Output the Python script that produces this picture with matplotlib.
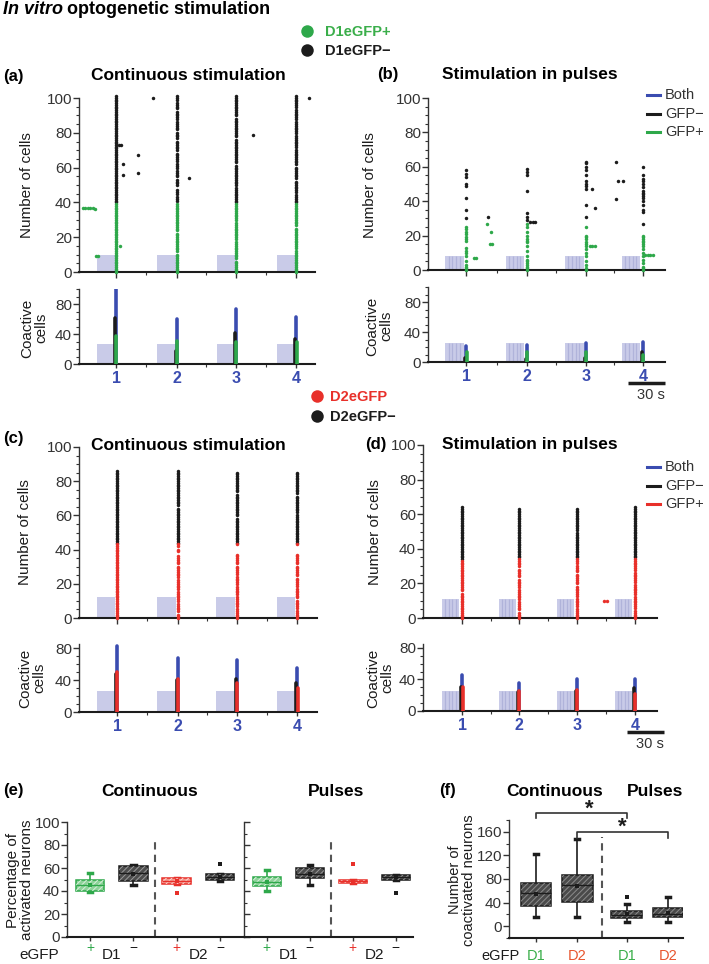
import numpy as np
import matplotlib
matplotlib.use('Agg')
import matplotlib.pyplot as plt
from matplotlib.lines import Line2D
from matplotlib.patches import PathPatch
from matplotlib.ticker import MultipleLocator
import matplotlib.transforms as mtransforms

plt.rcParams['font.family'] = ['Liberation Sans', 'DejaVu Sans']
plt.rcParams['hatch.linewidth'] = 0.7

# ------------------------------------------------------------------ data
STIM_LABELS = ['1', '2', '3', '4']

# (a) D1, continuous
A_STIMS = [30, 79, 127, 176]
A_POS_SEGS = [
    [(0, 39)],
    [(0, 10), (12, 22), (24, 39)],
    [(0, 6), (8, 17), (19, 28), (30, 39)],
    [(0, 12), (14, 25), (27, 39)],
]
A_NEG_SEGS = [
    [(40, 101)],
    [(41, 43), (45, 47), (50, 53), (55, 58), (60, 62), (64, 68), (70, 75), (77, 80),
     (82, 86), (88, 92), (94, 97), (99, 101)],
    [(40, 48), (50, 61), (63, 76), (78, 88), (90, 101)],
    [(40, 44), (46, 52), (54, 60), (62, 70), (72, 78), (80, 86), (88, 93), (95, 101)],
]
A_POS_EXTRA = [(3, 37), (5, 37), (7, 37), (9, 37), (11, 37), (13, 36), (14, 9), (15, 9), (33, 15)]
A_NEG_EXTRA = [(32, 73), (34, 73), (36, 62), (36, 56), (48, 67), (48, 57), (60, 100),
               (89, 54), (141, 79), (186, 100)]
A_CO_BOTH = [100, 60, 73, 63]
A_CO_NEG = [61, 18, 42, 33]
A_CO_POS = [37, 31, 29, 30]

# (b) D1, pulses
B_STIMS = [31, 80, 128, 174]
B_POS_CELLS = [
    [0, 1, 2, 3, 5, 8, 10, 11, 13, 17, 18, 19, 21, 22, 24, 25],
    [0, 1, 2, 3, 4, 5, 6, 8, 11, 14, 16, 17, 18, 20, 22, 25, 27],
    [0, 1, 3, 5, 8, 10, 12, 14, 15, 16, 18, 19, 20, 25],
    [0, 1, 2, 4, 6, 8, 10, 12, 14, 15, 16, 17, 18, 19, 20],
]
B_NEG_CELLS = [
    [30, 35, 42, 49, 50, 54, 56, 58],
    [29, 31, 33, 46, 55, 57, 59],
    [31, 38, 47, 49, 50, 52, 55, 58, 60, 62, 63],
    [27, 34, 35, 38, 40, 42, 43, 44, 45, 46, 48, 50, 52, 53, 55, 60],
]
B_POS_EXTRA = [(37, 7), (39, 7), (48, 27), (51, 22), (50, 15), (52, 15), (131, 14), (133, 14),
               (135, 14), (176, 9), (178, 9), (180, 9), (182, 9)]
B_NEG_EXTRA = [(49, 31), (83, 28), (85, 28), (87, 28), (133, 47), (135, 36), (152, 63),
               (152, 41), (154, 52), (158, 52)]
B_CO_BOTH = [21, 23, 25, 27]
B_CO_NEG = [6, 4, 6, 14]
B_CO_POS = [14, 14, 14, 10]

# (c) D2, continuous
C_STIMS = [31, 80, 128, 177]
C_POS_SEGS = [
    [(0, 43)],
    [(0, 2), (4, 8), (10, 15), (17, 22), (24, 30), (32, 36), (39, 40), (42, 43)],
    [(0, 5), (7, 12), (14, 18), (20, 24), (26, 30), (32, 37), (43, 43)],
    [(0, 4), (6, 10), (12, 17), (19, 23), (25, 30), (32, 37), (43, 43)],
]
C_NEG_SEGS = [
    [(44, 86)],
    [(44, 64), (66, 86)],
    [(44, 58), (60, 72), (74, 85)],
    [(44, 60), (62, 71), (73, 85)],
]
C_CO_BOTH = [82, 68, 65, 55]
C_CO_NEG = [48, 40, 41, 36]
C_CO_POS = [50, 41, 36, 30]

# (d) D2, pulses
D_STIMS = [32, 78, 125, 172]
D_POS_SEGS = [
    [(0, 14), (16, 33)],
    [(0, 3), (5, 9), (11, 16), (18, 22), (24, 28), (30, 34)],
    [(0, 5), (7, 11), (13, 18), (20, 25), (27, 30), (32, 34)],
    [(0, 4), (6, 12), (14, 19), (21, 26), (28, 34)],
]
D_NEG_SEGS = [
    [(34, 64)],
    [(35, 63)],
    [(35, 49), (51, 63)],
    [(35, 64)],
]
D_POS_EXTRA = [(147, 10), (149, 10)]
D_CO_BOTH = [46, 36, 40, 41]
D_CO_NEG = [30, 24, 26, 29]
D_CO_POS = [31, 25, 27, 22]

# (e) percentage of activated neurons (D1+, D1-, D2+, D2-)
E_CONT_MED = [45, 56, 49, 52.5]
E_CONT_Q1 = [40, 49, 46, 49.5]
E_CONT_Q3 = [50, 62, 51, 55]
E_CONT_LO = [39, 45, 46, 48.5]
E_CONT_HI = [55.5, 63, 51, 55]
E_CONT_MEAN = [45, 55, 48.5, 52]
E_CONT_FLIERS = [[], [], [38], [63.5]]

E_PULS_MED = [48, 55, 48.5, 52]
E_PULS_Q1 = [44, 51, 47, 50]
E_PULS_Q3 = [52, 60, 50, 54]
E_PULS_LO = [40, 45, 47, 50]
E_PULS_HI = [58, 62.5, 50, 54]
E_PULS_MEAN = [48, 55, 48.5, 52]
E_PULS_FLIERS = [[], [], [63.5], [38.5]]

# (f) number of coactivated neurons (cont D1, cont D2, pulses D1, pulses D2)
F_LABELS = ['D1', 'D2', 'D1', 'D2']
F_MED = [57, 69, 19, 21]
F_Q1 = [34, 41, 14, 15]
F_Q3 = [73, 86, 25, 31]
F_LO = [15, 15, 7, 7]
F_HI = [122, 148, 37, 50]
F_MEAN = [55, 68, 20, 23]
F_FLIERS = [[], [], [50], []]

# ------------------------------------------------------------------ style
GREEN = '#2ea84a'
GREEN_T = '#3aae4a'
RED = '#e8302a'
BLUE = '#3a4cb0'
BLACK = '#1c1c1c'
SHADE = '#c9cbe8'
STRIPE = '#b0b3da'
TICKC = '#333333'

W, H = 709, 964
fig = plt.figure(figsize=(W / 100, H / 100), dpi=100)


def add_ax(x0, x1, y_top, y_bot):
    return fig.add_axes([x0 / W, 1 - y_bot / H, (x1 - x0) / W, (y_bot - y_top) / H])


def ftext(x, y, s, **kw):
    return fig.text(x / W, 1 - y / H, s, **kw)


def style(ax, bottom_lw=1.5):
    for s in ('top', 'right'):
        ax.spines[s].set_visible(False)
    ax.spines['left'].set_color(TICKC)
    ax.spines['left'].set_linewidth(1.0)
    ax.spines['bottom'].set_color(BLACK)
    ax.spines['bottom'].set_linewidth(bottom_lw)
    ax.tick_params(axis='both', which='major', direction='out', length=4, width=1.0,
                   colors=TICKC, labelsize=11, pad=1)
    ax.tick_params(axis='both', which='minor', direction='out', length=2, width=0.8,
                   colors=TICKC)
    ax.patch.set_alpha(0)


def segs_to_cells(segs):
    return np.concatenate([np.arange(a, b + 1) for a, b in segs])


def raster(ax, stims, pos_cells, neg_cells, pos_color, pos_extra, neg_extra, ms):
    kw = dict(ls='none', marker='o', ms=ms, mew=0, clip_on=False, zorder=3)
    for t, pc, nc in zip(stims, pos_cells, neg_cells):
        ax.plot(np.full(len(nc), t), nc, color=BLACK, **kw)
        ax.plot(np.full(len(pc), t), pc, color=pos_color, **kw)
    if neg_extra:
        ex = np.array(neg_extra)
        ax.plot(ex[:, 0], ex[:, 1], color=BLACK, **kw)
    if pos_extra:
        ex = np.array(pos_extra)
        ax.plot(ex[:, 0], ex[:, 1], color=pos_color, **kw)


def coactive(ax, stims, both, neg, pos, pos_color):
    st = np.array(stims, dtype=float)
    ax.vlines(st, 0, both, color=BLUE, lw=2.6, capstyle='round', zorder=3)
    ax.vlines(st - 0.9, 0, neg, color=BLACK, lw=2.6, capstyle='round', zorder=3.1)
    ax.vlines(st + 0.2, 0, pos, color=pos_color, lw=2.6, capstyle='round', zorder=3.2)


def shade(ax, stims, height, width, gap, pulses=False):
    starts = np.array(stims, dtype=float) - width - gap
    ax.bar(starts, height, width=width, align='edge', color=SHADE, lw=0, zorder=0)
    if pulses:
        for s in starts:
            ax.vlines(s + width * np.array([0.18, 0.38, 0.58, 0.78]), 0, height,
                      color=STRIPE, lw=0.9, zorder=0.5)


def setup_time_axes(top, co, stims, xlim):
    for ax in (top, co):
        ax.set_xlim(*xlim)
        ax.set_xticks(stims)
        ax.set_xticks((np.array(stims[:-1]) + np.array(stims[1:])) / 2, minor=True)
        style(ax)
    top.set_xticklabels([])
    top.set_ylim(0, 100)
    top.set_yticks([0, 20, 40, 60, 80, 100])
    top.yaxis.set_minor_locator(MultipleLocator(5))
    co.set_yticks([0, 40, 80])
    co.yaxis.set_minor_locator(MultipleLocator(10))
    co.set_xticklabels(STIM_LABELS, color=BLUE, fontweight='bold', fontsize=11.5)
    co.tick_params(axis='x', which='major', pad=2, length=3)


# ---- figure title
r = fig.canvas.get_renderer()
t1 = ftext(3, 10, 'In vitro', fontsize=13, fontweight='bold', fontstyle='italic', va='center')
bb = t1.get_window_extent(renderer=r)
fig.text((bb.x1 + 4) / W, 1 - 10 / H, 'optogenetic stimulation', fontsize=13,
         fontweight='bold', va='center')

# ---- D1 legend
fig.add_artist(Line2D([307 / W], [1 - 31 / H], marker='o', ms=9, color=GREEN, mew=0))
fig.add_artist(Line2D([307 / W], [1 - 50 / H], marker='o', ms=9, color=BLACK, mew=0))
ftext(325, 32, 'D1eGFP+', fontsize=10.5, fontweight='bold', color=GREEN_T, va='center')
ftext(325, 51, 'D1eGFP\u2212', fontsize=10.5, fontweight='bold', color=BLACK, va='center')

# ---- (a)
a_top = add_ax(79, 315, 98, 272)
a_co = add_ax(79, 315, 289, 364)
a_co.set_ylim(0, 100)
setup_time_axes(a_top, a_co, A_STIMS, (0, 191))
shade(a_top, A_STIMS, 10, 16, -0.5)
shade(a_co, A_STIMS, 27, 16, -0.5)
raster(a_top, A_STIMS, [segs_to_cells(s) for s in A_POS_SEGS],
       [segs_to_cells(s) for s in A_NEG_SEGS], GREEN, A_POS_EXTRA, A_NEG_EXTRA, 2.5)
coactive(a_co, A_STIMS, A_CO_BOTH, A_CO_NEG, A_CO_POS, GREEN)
ftext(3, 76, '(a)', fontsize=12, fontweight='bold', va='center')
ftext(188, 76, 'Continuous stimulation', fontsize=12.5, fontweight='bold', va='center', ha='center')
ftext(27, 185, 'Number of cells', fontsize=11, rotation=90, va='center', ha='center', color=BLACK)
ftext(34, 328, 'Coactive\ncells', fontsize=11, rotation=90, va='center', ha='center',
      color=BLACK, linespacing=1.0)

# ---- (b)
b_top = add_ax(428, 665, 98, 270)
b_co = add_ax(428, 665, 287, 362)
b_co.set_ylim(0, 100)
setup_time_axes(b_top, b_co, B_STIMS, (0, 192))
shade(b_top, B_STIMS, 8, 15, 2, pulses=True)
shade(b_co, B_STIMS, 26, 15, 2, pulses=True)
raster(b_top, B_STIMS, B_POS_CELLS, B_NEG_CELLS, GREEN, B_POS_EXTRA, B_NEG_EXTRA, 2.5)
coactive(b_co, B_STIMS, B_CO_BOTH, B_CO_NEG, B_CO_POS, GREEN)
ftext(377, 75, '(b)', fontsize=12, fontweight='bold', va='center')
ftext(530, 75, 'Stimulation in pulses', fontsize=12.5, fontweight='bold', va='center', ha='center')
ftext(370, 185, 'Number of cells', fontsize=11, rotation=90, va='center', ha='center', color=BLACK)
ftext(379, 326, 'Coactive\ncells', fontsize=11, rotation=90, va='center', ha='center',
      color=BLACK, linespacing=1.0)
# scale bar
tb = mtransforms.blended_transform_factory(b_co.transData, fig.transFigure)
b_co.plot([162, 192], [1 - 383 / H] * 2, color=BLACK, lw=2.5, transform=tb, clip_on=False,
          solid_capstyle='butt')
b_co.text(181, 1 - 395 / H, '30 s', transform=tb, fontsize=10.5, ha='center', va='center',
          color=TICKC)


# legend (b) and (d)
def line_legend(y0, pos_color):
    for i, (lab, c) in enumerate([('Both', BLUE), ('GFP\u2212', BLACK), ('GFP+', pos_color)]):
        y = y0 + i * 18.5
        fig.add_artist(Line2D([647 / W, 660 / W], [1 - y / H] * 2, color=c, lw=2.2))
        ftext(665, y, lab, fontsize=10.5, va='center', color=TICKC)


line_legend(95, GREEN)

# ---- D2 legend
fig.add_artist(Line2D([317 / W], [1 - 396 / H], marker='o', ms=9, color=RED, mew=0))
fig.add_artist(Line2D([317 / W], [1 - 416 / H], marker='o', ms=9, color=BLACK, mew=0))
ftext(330, 397, 'D2eGFP', fontsize=10.5, fontweight='bold', color=RED, va='center')
ftext(330, 417, 'D2eGFP\u2212', fontsize=10.5, fontweight='bold', color=BLACK, va='center')

# ---- (c)
c_top = add_ax(79, 317, 447, 618)
c_co = add_ax(79, 317, 644, 712)
c_co.set_ylim(0, 85)
setup_time_axes(c_top, c_co, C_STIMS, (0, 193))
shade(c_top, C_STIMS, 12, 15, 1.5)
shade(c_co, C_STIMS, 26, 15, 1.5)
raster(c_top, C_STIMS, [segs_to_cells(s) for s in C_POS_SEGS],
       [segs_to_cells(s) for s in C_NEG_SEGS], RED, None, None, 2.5)
coactive(c_co, C_STIMS, C_CO_BOTH, C_CO_NEG, C_CO_POS, RED)
ftext(3, 439, '(c)', fontsize=12, fontweight='bold', va='center')
ftext(188, 446, 'Continuous stimulation', fontsize=12.5, fontweight='bold', va='center', ha='center')
ftext(25, 532, 'Number of cells', fontsize=11, rotation=90, va='center', ha='center', color=BLACK)
ftext(32, 678, 'Coactive\ncells', fontsize=11, rotation=90, va='center', ha='center',
      color=BLACK, linespacing=1.0)

# ---- (d)
d_top = add_ax(423, 657, 445, 618)
d_co = add_ax(423, 657, 644, 711)
d_co.set_ylim(0, 85)
setup_time_axes(d_top, d_co, D_STIMS, (0, 190))
shade(d_top, D_STIMS, 11, 14, 2.5, pulses=True)
shade(d_co, D_STIMS, 26, 14, 2.5, pulses=True)
raster(d_top, D_STIMS, [segs_to_cells(s) for s in D_POS_SEGS],
       [segs_to_cells(s) for s in D_NEG_SEGS], RED, D_POS_EXTRA, None, 2.5)
coactive(d_co, D_STIMS, D_CO_BOTH, D_CO_NEG, D_CO_POS, RED)
ftext(365, 445, '(d)', fontsize=12, fontweight='bold', va='center')
ftext(530, 445, 'Stimulation in pulses', fontsize=12.5, fontweight='bold', va='center', ha='center')
ftext(375, 532, 'Number of cells', fontsize=11, rotation=90, va='center', ha='center', color=BLACK)
ftext(380, 678, 'Coactive\ncells', fontsize=11, rotation=90, va='center', ha='center',
      color=BLACK, linespacing=1.0)
td = mtransforms.blended_transform_factory(d_co.transData, fig.transFigure)
d_co.plot([165.5, 195.5], [1 - 732 / H] * 2, color=BLACK, lw=2.5, transform=td, clip_on=False,
          solid_capstyle='butt')
d_co.text(184, 1 - 744 / H, '30 s', transform=td, fontsize=10.5, ha='center', va='center',
          color=TICKC)
line_legend(467, RED)


# ---- box plot helper
def boxes(ax, positions, med, q1, q3, lo, hi, mean, fliers, faces, edges, hatchc, width):
    stats = [dict(med=m, q1=a, q3=b, whislo=l, whishi=h, mean=mn, fliers=f)
             for m, a, b, l, h, mn, f in zip(med, q1, q3, lo, hi, mean, fliers)]
    res = ax.bxp(stats, positions=positions, widths=width, patch_artist=True, showmeans=True,
                 capwidths=0.1,
                 medianprops=dict(lw=1.0, zorder=5),
                 meanprops=dict(marker='s', ms=3, mew=0, zorder=5),
                 whiskerprops=dict(lw=1.2), capprops=dict(lw=2.5),
                 flierprops=dict(marker='s', ms=3.2, mew=0))
    for i, bx in enumerate(res['boxes']):
        bx.set_facecolor(faces[i])
        bx.set_edgecolor(edges[i])
        bx.set_linewidth(1.1)
        bx.set_zorder(3)
        hp = PathPatch(bx.get_path(), transform=bx.get_transform(), fill=False, hatch='//////',
                       edgecolor=hatchc[i], lw=0, zorder=3.5)
        ax.add_patch(hp)
        res['medians'][i].set_color(edges[i])
        res['means'][i].set_markerfacecolor(edges[i])
        res['fliers'][i].set_markerfacecolor(edges[i])
        for w in res['whiskers'][2 * i:2 * i + 2]:
            w.set_color(edges[i])
        for c in res['caps'][2 * i:2 * i + 2]:
            c.set_color(edges[i])
    return res


E_FACES = ['#8ed39a', '#4d4d4d', '#f49a90', '#4d4d4d']
E_EDGES = [GREEN, BLACK, RED, BLACK]
E_HATCH = ['#d8f0dc', '#9a9a9a', '#fbd6d2', '#9a9a9a']

e1 = add_ax(67, 244, 822, 937)
e2 = add_ax(244, 413, 822, 937)
for ax, med, q1, q3, lo, hi, mn, fl in (
        (e1, E_CONT_MED, E_CONT_Q1, E_CONT_Q3, E_CONT_LO, E_CONT_HI, E_CONT_MEAN, E_CONT_FLIERS),
        (e2, E_PULS_MED, E_PULS_Q1, E_PULS_Q3, E_PULS_LO, E_PULS_HI, E_PULS_MEAN, E_PULS_FLIERS)):
    boxes(ax, [1, 2, 3, 4], med, q1, q3, lo, hi, mn, fl, E_FACES, E_EDGES, E_HATCH, 0.66)
    style(ax)
    ax.set_ylim(0, 100)
    ax.set_yticks([0, 20, 40, 60, 80, 100])
    ax.yaxis.set_minor_locator(MultipleLocator(10))
    ax.set_xticks([1, 2, 3, 4])
    ax.set_xticklabels([])
    ax.tick_params(axis='x', length=3)
    ax.axvline(2.5, ymin=0, ymax=0.85, ls=(0, (3.5, 2.5)), color='#555555', lw=1.5, zorder=1)
e1.set_xlim(0.47, 4.55)
e2.set_xlim(0.47, 4.4)
e2.set_yticklabels([])
e2.tick_params(axis='y', which='both', direction='in')
for ax in (e1, e2):
    te = mtransforms.blended_transform_factory(ax.transData, fig.transFigure)
    for x, s, c in ((1, '+', GREEN), (2, '\u2212', BLACK), (3, '+', RED), (4, '\u2212', BLACK)):
        ax.text(x, 1 - 948 / H, s, transform=te, fontsize=10, color=c, ha='center', va='center')
    ax.text(1.5, 1 - 955 / H, 'D1', transform=te, fontsize=11, color=BLACK, ha='center', va='center')
    ax.text(3.5, 1 - 955 / H, 'D2', transform=te, fontsize=11, color=BLACK, ha='center', va='center')
ftext(39, 955, 'eGFP', fontsize=11, ha='center', va='center', color=BLACK)
ftext(13, 791, '(e)', fontsize=12, fontweight='bold', va='center', ha='center')
ftext(150, 791, 'Continuous', fontsize=12.5, fontweight='bold', va='center', ha='center')
ftext(336, 791, 'Pulses', fontsize=12.5, fontweight='bold', va='center', ha='center')
ftext(20, 880, 'Percentage of\nactivated neurons', fontsize=11, rotation=90, va='center',
      ha='center', color=BLACK, linespacing=1.0)

# ---- (f)
F_POS = [1, 2, 3.2, 4.2]
fax = add_ax(509, 683, 820, 938)
boxes(fax, F_POS, F_MED, F_Q1, F_Q3, F_LO, F_HI, F_MEAN, F_FLIERS,
      ['#4a4a4a'] * 4, [BLACK] * 4, ['#8c8c8c'] * 4, 0.74)
style(fax)
fax.set_xlim(0.34, 4.57)
fax.set_ylim(-20, 180)
fax.set_yticks([0, 40, 80, 120, 160])
fax.yaxis.set_minor_locator(MultipleLocator(20))
fax.set_xticks(F_POS)
fax.set_xticklabels([])
fax.tick_params(axis='x', length=3)
fax.axvline(2.6, ymin=0, ymax=0.86, ls=(0, (3.5, 2.5)), color='#555555', lw=1.5, zorder=1)
tf = mtransforms.blended_transform_factory(fax.transData, fig.transFigure)
for x, s in zip(F_POS, F_LABELS):
    fax.text(x, 1 - 956 / H, s, transform=tf, fontsize=10.5,
             color=GREEN_T if s == 'D1' else '#e8552e', ha='center', va='center')
ftext(501, 956, 'eGFP', fontsize=10.5, ha='center', va='center', color=BLACK)
# significance brackets
fax.plot([F_POS[0], F_POS[0], F_POS[2], F_POS[2]], [183, 192, 192, 183], color='#333333',
         lw=1.2, clip_on=False)
fax.text(2.3, 199, '*', fontsize=16, fontweight='bold', ha='center', va='center', color=BLACK)
fax.plot([F_POS[1], F_POS[1], F_POS[3], F_POS[3]], [150, 160, 160, 150], color='#333333',
         lw=1.2, clip_on=False)
fax.text(3.1, 167, '*', fontsize=16, fontweight='bold', ha='center', va='center', color=BLACK)
ftext(448, 791, '(f)', fontsize=12, fontweight='bold', va='center', ha='center')
ftext(555, 791, 'Continuous', fontsize=12.5, fontweight='bold', va='center', ha='center')
ftext(655, 791, 'Pulses', fontsize=12.5, fontweight='bold', va='center', ha='center')
ftext(462, 880, 'Number of\ncoactivated neurons', fontsize=10.5, rotation=90, va='center',
      ha='center', color=BLACK, linespacing=1.0)

fig.savefig('out.png', dpi=100)
